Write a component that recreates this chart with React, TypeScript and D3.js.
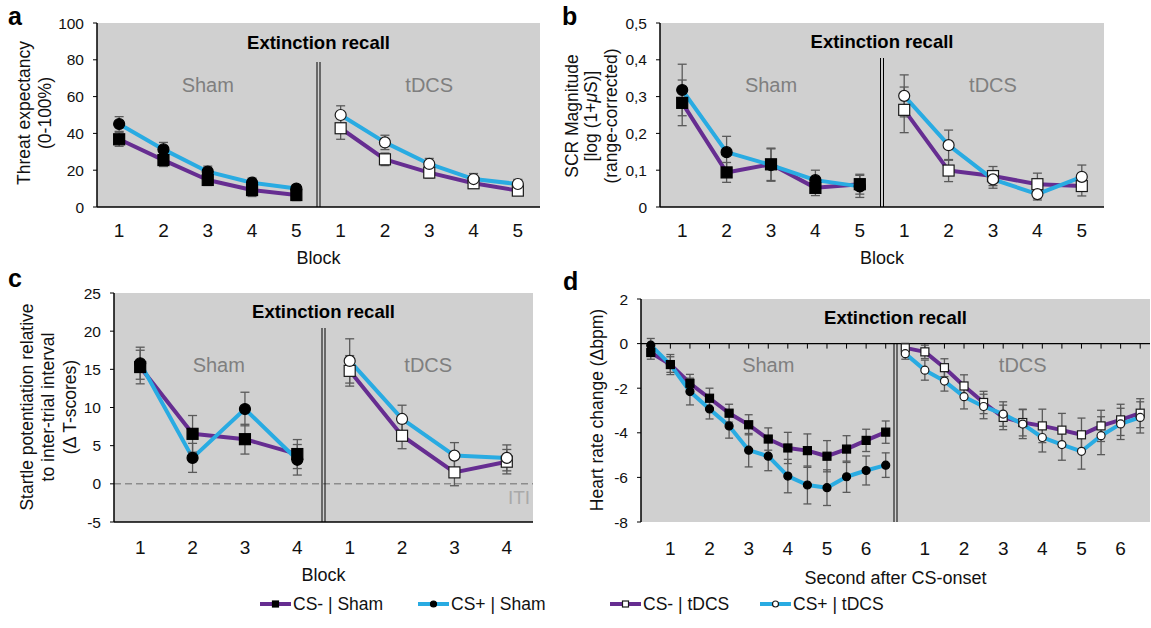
import React from "react";
import * as d3 from "d3";

const FONT = "'Liberation Sans', Arial, Helvetica, sans-serif";
const PURPLE = "#662d91";
const BLUE = "#29abe2";
const GRAY_BG = "#d0d0d0";
const ERR = "#5a5a5a";
const HALF_LABEL = "#7f7f7f";

// ---------- categories / tick labels ----------
const blocks5 = ["1", "2", "3", "4", "5"];
const blocks4 = ["1", "2", "3", "4"];
const seconds = ["0.5", "1", "1.5", "2", "2.5", "3", "3.5", "4", "4.5", "5", "5.5", "6", "6.5"];
const secondTickLabels = ["1", "2", "3", "4", "5", "6"];

const ticksA = [0, 20, 40, 60, 80, 100];
const ticksB = [0, 0.1, 0.2, 0.3, 0.4, 0.5];
const ticksC = [-5, 0, 5, 10, 15, 20, 25];
const ticksD = [-8, -6, -4, -2, 0, 2];

// ---------- panel a: threat expectancy ----------
const aShamCSminus = [36.8, 25.5, 14.7, 9.2, 6.5];
const aShamCSminusErr = [3.8, 3.5, 3.0, 3.5, 3.0];
const aShamCSplus = [45.1, 31.3, 19.2, 13.2, 10.0];
const aShamCSplusErr = [4.0, 3.8, 3.0, 2.5, 2.0];
const aTdcsCSminus = [42.8, 25.9, 18.7, 12.9, 8.9];
const aTdcsCSminusErr = [6.0, 3.4, 3.0, 2.5, 2.0];
const aTdcsCSplus = [50.0, 35.1, 23.4, 15.2, 12.5];
const aTdcsCSplusErr = [5.0, 3.9, 3.0, 3.0, 2.5];

// ---------- panel b: SCR ----------
const bShamCSminus = [0.283, 0.094, 0.116, 0.052, 0.062];
const bShamCSminusErr = [0.062, 0.027, 0.044, 0.021, 0.027];
const bShamCSplus = [0.318, 0.149, 0.114, 0.073, 0.056];
const bShamCSplusErr = [0.07, 0.043, 0.044, 0.027, 0.03];
const bTdcsCSminus = [0.264, 0.099, 0.084, 0.062, 0.057];
const bTdcsCSminusErr = [0.062, 0.03, 0.026, 0.03, 0.027];
const bTdcsCSplus = [0.302, 0.168, 0.075, 0.035, 0.082];
const bTdcsCSplusErr = [0.057, 0.041, 0.024, 0.016, 0.032];

// ---------- panel c: startle ----------
const cShamCSminus = [15.3, 6.55, 5.85, 3.9];
const cShamCSminusErr = [2.2, 2.4, 1.95, 1.9];
const cShamCSplus = [15.8, 3.4, 9.8, 3.15];
const cShamCSplusErr = [2.1, 1.9, 2.2, 2.0];
const cTdcsCSminus = [14.8, 6.3, 1.5, 2.9];
const cTdcsCSminusErr = [2.0, 1.7, 1.75, 1.6];
const cTdcsCSplus = [16.1, 8.5, 3.7, 3.4];
const cTdcsCSplusErr = [2.9, 1.8, 1.7, 1.7];

// ---------- panel d: heart rate ----------
const dShamCSminus = [-0.4, -0.94, -1.78, -2.45, -3.12, -3.64, -4.28, -4.68, -4.8, -5.05, -4.73, -4.34, -3.97];
const dShamCSminusErr = [0.3, 0.35, 0.4, 0.45, 0.4, 0.45, 0.5, 0.7, 0.75, 0.7, 0.6, 0.5, 0.5];
const dShamCSplus = [-0.07, -0.94, -2.15, -2.93, -3.69, -4.78, -5.05, -5.94, -6.34, -6.46, -5.97, -5.69, -5.45];
const dShamCSplusErr = [0.3, 0.45, 0.6, 0.45, 0.55, 0.75, 0.65, 0.75, 0.85, 0.8, 0.7, 0.65, 0.55];
const dTdcsCSminus = [-0.19, -0.37, -1.08, -1.9, -2.64, -3.31, -3.54, -3.69, -3.88, -4.09, -3.69, -3.42, -3.12];
const dTdcsCSminusErr = [0.2, 0.3, 0.4, 0.5, 0.5, 0.55, 0.6, 0.75, 0.75, 0.75, 0.7, 0.7, 0.65];
const dTdcsCSplus = [-0.45, -1.19, -1.68, -2.38, -2.82, -3.16, -3.61, -4.21, -4.53, -4.83, -4.13, -3.6, -3.31];
const dTdcsCSplusErr = [0.25, 0.45, 0.45, 0.55, 0.55, 0.55, 0.65, 0.65, 0.7, 0.8, 0.85, 0.7, 0.7];

const legendLabels = ["CS- | Sham", "CS+ | Sham", "CS- | tDCS", "CS+ | tDCS"];

type Shape = "square" | "circle";
interface Series {
  half: "S" | "T";
  values: number[];
  errors: number[];
  color: string;
  shape: Shape;
  filled: boolean;
}

function mkSeries(half: "S" | "T", values: number[], errors: number[], cs: "-" | "+"): Series {
  return {
    half,
    values,
    errors,
    color: cs === "-" ? PURPLE : BLUE,
    shape: cs === "-" ? "square" : "circle",
    filled: half === "S",
  };
}

function Marker({ x, y, shape, filled, size }: { x: number; y: number; shape: Shape; filled: boolean; size: number }) {
  const fill = filled ? "#000" : "#fff";
  const stroke = filled ? "#000" : "#1a1a1a";
  if (shape === "square")
    return <rect x={x - size / 2} y={y - size / 2} width={size} height={size} fill={fill} stroke={stroke} strokeWidth={1.2} />;
  return <circle cx={x} cy={y} r={size / 2} fill={fill} stroke={stroke} strokeWidth={1.2} />;
}

interface PanelProps {
  x0: number;
  x1: number;
  yTop: number;
  yBottom: number;
  yDomain: [number, number];
  yTicks: number[];
  fmt: (v: number) => string;
  cats: string[];
  tickLabels: string[];
  tickLabelCats: string[];
  series: Series[];
  dividerTop: number;
  titleY: number;
  halfLabelY: number;
  tickLabelY: number;
  xTitle: string;
  xTitleY: number;
  markerSize: number;
  capW: number;
  zeroDashed?: boolean;
  zeroAxis?: boolean;
  iti?: { x: number; y: number };
}

function Panel(p: PanelProps) {
  const keys = [...p.cats.map((c) => "S" + c), ...p.cats.map((c) => "T" + c)];
  const x = d3.scaleBand<string>().domain(keys).range([p.x0, p.x1]).paddingInner(0).paddingOuter(0);
  const cx = (k: string) => (x(k) as number) + x.bandwidth() / 2;
  const y = d3.scaleLinear().domain(p.yDomain).range([p.yBottom, p.yTop]);
  const divX = x("T" + p.cats[0]) as number;
  const midX = (p.x0 + p.x1) / 2;
  const shamMid = (p.x0 + divX) / 2;
  const tdcsMid = (divX + p.x1) / 2;

  const lineGen = (s: Series) =>
    d3
      .line<number>()
      .x((_, i) => cx(s.half + p.cats[i]))
      .y((v) => y(v))(s.values) as string;

  return (
    <g>
      <rect x={p.x0} y={p.yTop} width={p.x1 - p.x0} height={p.yBottom - p.yTop} fill={GRAY_BG} />
      <text x={midX} y={p.titleY} textAnchor="middle" dominantBaseline="central" fontWeight="bold" fontSize={18.5} fill="#000">
        Extinction recall
      </text>
      <text x={shamMid} y={p.halfLabelY} textAnchor="middle" dominantBaseline="central" fontSize={20} fill={HALF_LABEL}>
        Sham
      </text>
      <text x={tdcsMid} y={p.halfLabelY} textAnchor="middle" dominantBaseline="central" fontSize={20} fill={HALF_LABEL}>
        tDCS
      </text>
      {p.zeroDashed && (
        <line x1={p.x0} x2={p.x1} y1={y(0)} y2={y(0)} stroke="#8c8c8c" strokeWidth={1.5} strokeDasharray="7,4" />
      )}
      {p.iti && (
        <text x={p.iti.x} y={p.iti.y} textAnchor="middle" dominantBaseline="central" fontSize={19} fill="#a9a9a9">
          ITI
        </text>
      )}
      <line x1={divX - 1.5} x2={divX - 1.5} y1={p.dividerTop} y2={p.yBottom} stroke="#000" strokeWidth={1} />
      <line x1={divX + 1.5} x2={divX + 1.5} y1={p.dividerTop} y2={p.yBottom} stroke="#000" strokeWidth={1} />
      <line x1={p.x0} x2={p.x0} y1={p.yTop} y2={p.yBottom} stroke="#000" strokeWidth={1.5} />
      {p.zeroAxis ? (
        <g>
          <line x1={p.x0} x2={p.x1} y1={y(0)} y2={y(0)} stroke="#000" strokeWidth={1.3} />
          {keys.map((k) => (
            <line key={k} x1={cx(k)} x2={cx(k)} y1={y(0)} y2={y(0) + 5} stroke="#000" strokeWidth={1} />
          ))}
        </g>
      ) : (
        <line x1={p.x0} x2={p.x1} y1={p.yBottom} y2={p.yBottom} stroke="#000" strokeWidth={1.5} />
      )}
      {p.yTicks.map((t) => (
        <g key={t}>
          <line x1={p.x0 - 4} x2={p.x0} y1={y(t)} y2={y(t)} stroke="#000" strokeWidth={1} />
          <text x={p.x0 - 13} y={y(t)} textAnchor="end" dominantBaseline="central" fontSize={15.5} fill="#111">
            {p.fmt(t)}
          </text>
        </g>
      ))}
      {["S", "T"].map((h) =>
        p.tickLabelCats.map((c, i) => (
          <text key={h + c} x={cx(h + c)} y={p.tickLabelY} textAnchor="middle" dominantBaseline="central" fontSize={19} fill="#111">
            {p.tickLabels[i]}
          </text>
        ))
      )}
      <text x={midX} y={p.xTitleY} textAnchor="middle" dominantBaseline="central" fontSize={18} fill="#111">
        {p.xTitle}
      </text>
      {p.series.map((s, si) => (
        <path key={"l" + si} d={lineGen(s)} fill="none" stroke={s.color} strokeWidth={4} strokeLinejoin="round" />
      ))}
      {p.series.map((s, si) => (
        <g key={"e" + si}>
          {s.values.map((v, i) => {
            const xx = cx(s.half + p.cats[i]);
            const lo = y(v - s.errors[i]);
            const hi = y(v + s.errors[i]);
            return (
              <g key={i}>
                <line x1={xx} x2={xx} y1={lo} y2={hi} stroke={ERR} strokeWidth={1.3} />
                <line x1={xx - p.capW / 2} x2={xx + p.capW / 2} y1={lo} y2={lo} stroke={ERR} strokeWidth={1.3} />
                <line x1={xx - p.capW / 2} x2={xx + p.capW / 2} y1={hi} y2={hi} stroke={ERR} strokeWidth={1.3} />
              </g>
            );
          })}
        </g>
      ))}
      {p.series.map((s, si) => (
        <g key={"m" + si}>
          {s.values.map((v, i) => (
            <Marker key={i} x={cx(s.half + p.cats[i])} y={y(v)} shape={s.shape} filled={s.filled} size={p.markerSize} />
          ))}
        </g>
      ))}
    </g>
  );
}

function YTitle({ x, y, lines, dy }: { x: number; y: number; lines: React.ReactNode[]; dy: number }) {
  const n = lines.length;
  return (
    <g>
      {lines.map((l, i) => (
        <text
          key={i}
          transform={`translate(${x + (i - (n - 1) / 2) * dy},${y}) rotate(-90)`}
          textAnchor="middle"
          dominantBaseline="central"
          fontSize={17.5}
          fill="#111"
        >
          {l}
        </text>
      ))}
    </g>
  );
}

const commaFmt = (v: number) => (v === 0 ? "0" : d3.format(".1f")(v).replace(".", ","));
const intFmt = (v: number) => String(v);

export default function App() {
  const seriesA = [
    mkSeries("S", aShamCSminus, aShamCSminusErr, "-"),
    mkSeries("S", aShamCSplus, aShamCSplusErr, "+"),
    mkSeries("T", aTdcsCSminus, aTdcsCSminusErr, "-"),
    mkSeries("T", aTdcsCSplus, aTdcsCSplusErr, "+"),
  ];
  const seriesB = [
    mkSeries("S", bShamCSminus, bShamCSminusErr, "-"),
    mkSeries("S", bShamCSplus, bShamCSplusErr, "+"),
    mkSeries("T", bTdcsCSminus, bTdcsCSminusErr, "-"),
    mkSeries("T", bTdcsCSplus, bTdcsCSplusErr, "+"),
  ];
  const seriesC = [
    mkSeries("S", cShamCSminus, cShamCSminusErr, "-"),
    mkSeries("S", cShamCSplus, cShamCSplusErr, "+"),
    mkSeries("T", cTdcsCSminus, cTdcsCSminusErr, "-"),
    mkSeries("T", cTdcsCSplus, cTdcsCSplusErr, "+"),
  ];
  const seriesD = [
    mkSeries("S", dShamCSminus, dShamCSminusErr, "-"),
    mkSeries("S", dShamCSplus, dShamCSplusErr, "+"),
    mkSeries("T", dTdcsCSminus, dTdcsCSminusErr, "-"),
    mkSeries("T", dTdcsCSplus, dTdcsCSplusErr, "+"),
  ];

  const legendItems = [
    { x: 260, shape: "square" as Shape, filled: true, color: PURPLE },
    { x: 418, shape: "circle" as Shape, filled: true, color: BLUE },
    { x: 610, shape: "square" as Shape, filled: false, color: PURPLE },
    { x: 760, shape: "circle" as Shape, filled: false, color: BLUE },
  ];
  const legendY = 604;

  return (
    <svg
      width={1151}
      height={628}
      style={{ position: "absolute", left: 0, top: 0, background: "#fff" }}
      fontFamily={FONT}
    >
      <rect x={0} y={0} width={1151} height={628} fill="#fff" />
      <text x={8} y={25} fontSize={25} fontWeight="bold">a</text>
      <text x={562} y={25} fontSize={25} fontWeight="bold">b</text>
      <text x={8} y={287} fontSize={25} fontWeight="bold">c</text>
      <text x={563} y={290} fontSize={25} fontWeight="bold">d</text>

      <Panel
        x0={97}
        x1={540}
        yTop={23}
        yBottom={207}
        yDomain={[0, 100]}
        yTicks={ticksA}
        fmt={intFmt}
        cats={blocks5}
        tickLabels={blocks5}
        tickLabelCats={blocks5}
        series={seriesA}
        dividerTop={62}
        titleY={42}
        halfLabelY={85}
        tickLabelY={230}
        xTitle="Block"
        xTitleY={258}
        markerSize={11}
        capW={9}
      />
      <YTitle x={34} y={113} dy={21} lines={["Threat expectancy", "(0-100%)"]} />

      <Panel
        x0={660}
        x1={1104}
        yTop={23}
        yBottom={207}
        yDomain={[0, 0.5]}
        yTicks={ticksB}
        fmt={commaFmt}
        cats={blocks5}
        tickLabels={blocks5}
        tickLabelCats={blocks5}
        series={seriesB}
        dividerTop={58}
        titleY={41}
        halfLabelY={85}
        tickLabelY={230}
        xTitle="Block"
        xTitleY={258}
        markerSize={11}
        capW={9}
      />
      <YTitle
        x={591}
        y={116}
        dy={19.5}
        lines={[
          "SCR Magnitude",
          <>
            [log (1+<tspan fontStyle="italic">μ</tspan>S)]
          </>,
          "(range-corrected)",
        ]}
      />

      <Panel
        x0={114}
        x1={533}
        yTop={293}
        yBottom={522}
        yDomain={[-5, 25]}
        yTicks={ticksC}
        fmt={intFmt}
        cats={blocks4}
        tickLabels={blocks4}
        tickLabelCats={blocks4}
        series={seriesC}
        dividerTop={328}
        titleY={311}
        halfLabelY={365}
        tickLabelY={547}
        xTitle="Block"
        xTitleY={575}
        markerSize={11}
        capW={9}
        zeroDashed
        iti={{ x: 519, y: 497 }}
      />
      <YTitle
        x={48}
        y={407}
        dy={21.5}
        lines={["Startle potentiation relative", "to inter-trial interval", "(Δ T-scores)"]}
      />

      <Panel
        x0={641}
        x1={1150}
        yTop={299}
        yBottom={522}
        yDomain={[-8, 2]}
        yTicks={ticksD}
        fmt={intFmt}
        cats={seconds}
        tickLabels={secondTickLabels}
        tickLabelCats={["1", "2", "3", "4", "5", "6"]}
        series={seriesD}
        dividerTop={343}
        titleY={317}
        halfLabelY={365}
        tickLabelY={548}
        xTitle="Second after CS-onset"
        xTitleY={578}
        markerSize={8}
        capW={8}
        zeroAxis
      />
      <YTitle x={597} y={410} dy={0} lines={["Heart rate change (Δbpm)"]} />

      {legendItems.map((it, i) => (
        <g key={i}>
          <line x1={it.x} x2={it.x + 31} y1={legendY} y2={legendY} stroke={it.color} strokeWidth={4} />
          <Marker x={it.x + 15.5} y={legendY} shape={it.shape} filled={it.filled} size={6} />
          <text x={it.x + 33} y={legendY} dominantBaseline="central" fontSize={17.5} fill="#111">
            {legendLabels[i]}
          </text>
        </g>
      ))}
    </svg>
  );
}
